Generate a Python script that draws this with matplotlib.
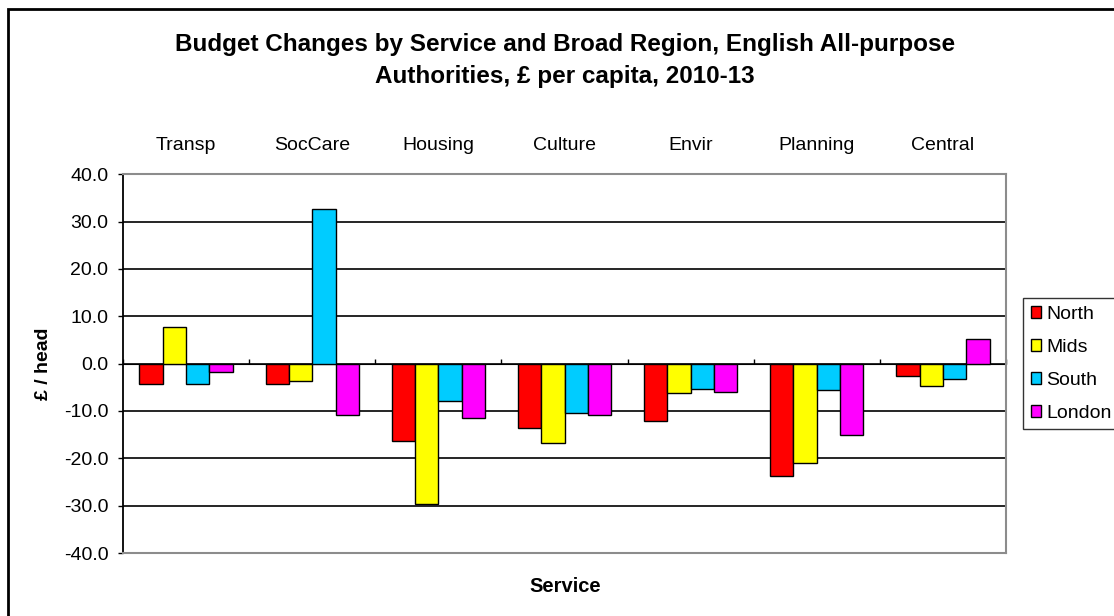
import matplotlib
matplotlib.use("Agg")
import matplotlib.pyplot as plt
import numpy as np
from matplotlib.patches import Rectangle

plt.rcParams['font.family'] = ['Liberation Sans', 'DejaVu Sans']

services = ["Transp", "SocCare", "Housing", "Culture", "Envir", "Planning", "Central"]
regions = ["North", "Mids", "South", "London"]
north = [-4.3, -4.3, -16.3, -13.5, -12.1, -23.8, -2.7]
mids = [7.7, -3.7, -29.7, -16.7, -6.2, -20.9, -4.7]
south = [-4.3, 32.7, -7.9, -10.4, -5.3, -5.6, -3.3]
london = [-1.8, -10.9, -11.5, -10.8, -5.9, -15.1, 5.2]
colors = ["#FF0000", "#FFFF00", "#00CCFF", "#FF00FF"]
yticks = [-40, -30, -20, -10, 0, 10, 20, 30, 40]

W, H = 1114, 616
fig = plt.figure(figsize=(W / 100, H / 100), dpi=100)
ax = fig.add_axes([123 / W, 1 - 553 / H, (1006 - 123) / W, (553 - 174.3) / H])

x = np.arange(len(services))
bw = 0.185
series = [north, mids, south, london]
for i, (vals, name, c) in enumerate(zip(series, regions, colors)):
    ax.bar(x + (i - 1.5) * bw, vals, width=bw, color=c, edgecolor="black",
           linewidth=1.0, label=name, zorder=3)

ax.set_xlim(-0.5, len(services) - 0.5)
ax.set_ylim(-40, 40)
ax.set_yticks(yticks)
ax.set_yticklabels([f"{v:.1f}" for v in yticks], fontsize=14)
ax.tick_params(axis="y", direction="out", length=3.6, width=1, pad=7)
ax.yaxis.grid(True, color="black", linewidth=1.2, zorder=1)
ax.set_axisbelow(True)

# frame: black left spine, grey elsewhere
for s in ("top", "right", "bottom"):
    ax.spines[s].set_color("#8C8C8C")
    ax.spines[s].set_linewidth(1.5)
    ax.spines[s].set_zorder(2.5)
ax.spines["left"].set_color("black")
ax.spines["left"].set_linewidth(1.3)
ax.set_xticks([])

# category axis crossing at zero, tick marks at category boundaries
zero_ax = ax.secondary_xaxis(0.5)
zero_ax.set_xticks(np.arange(-0.5, len(services), 1.0))
zero_ax.set_xticklabels([])
zero_ax.tick_params(direction="out", length=3.6, width=1, color="black")
zero_ax.spines["bottom"].set_color("black")
zero_ax.spines["bottom"].set_linewidth(1.3)
zero_ax.spines["bottom"].set_zorder(4)

# category labels above the plot
top_ax = ax.secondary_xaxis("top")
top_ax.set_xticks(x)
top_ax.set_xticklabels(services, fontsize=14)
top_ax.tick_params(length=0, pad=14.5)
top_ax.spines["top"].set_visible(False)

ax.set_ylabel("£ / head", fontsize=14, fontweight="bold")
ax.yaxis.set_label_coords(-0.080, 0.5)
fig.text(565 / W, 1 - 587 / H, "Service", ha="center", va="center",
         fontsize=14.5, fontweight="bold")
fig.text(565 / W, 1 - 45 / H, "Budget Changes by Service and Broad Region, English All-purpose",
         ha="center", va="center", fontsize=17.5, fontweight="bold")
fig.text(565 / W, 1 - 76 / H, "Authorities, £ per capita, 2010-13",
         ha="center", va="center", fontsize=17.5, fontweight="bold")

leg = ax.legend(loc="upper left", bbox_to_anchor=(1023 / W, 1 - 298 / H),
                bbox_transform=fig.transFigure, borderaxespad=0, fancybox=False,
                edgecolor="black", fontsize=14, handlelength=0.55, handleheight=0.55,
                handletextpad=0.25, labelspacing=0.82, borderpad=0.4)
leg.get_frame().set_linewidth(1.0)

# chart-area border
fig.patches.append(Rectangle((8 / W, -0.05), 1.2, 1.05 - 9 / H, transform=fig.transFigure,
                             fill=False, edgecolor="black", linewidth=2, clip_on=False))

fig.savefig("out.png", dpi=100)
